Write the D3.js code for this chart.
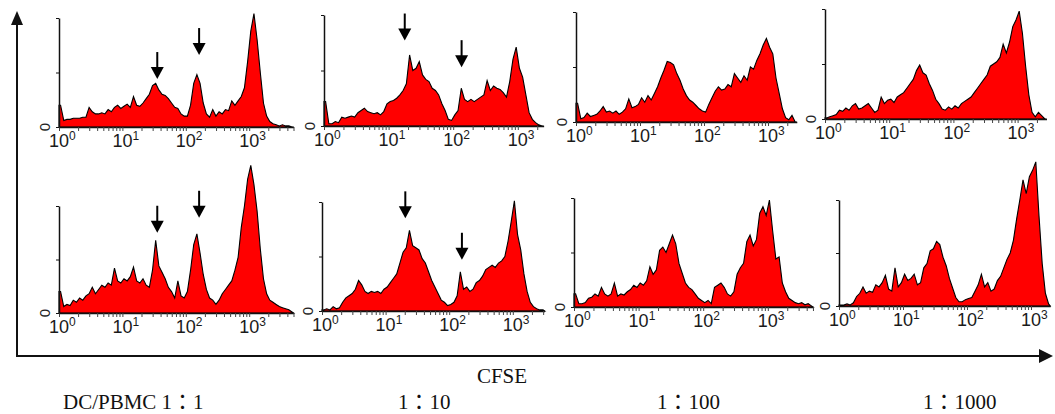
<!DOCTYPE html>
<html>
<head>
<meta charset="utf-8">
<script src="https://cdn.jsdelivr.net/npm/d3@7"></script>
<style>
  body { margin: 0; background: #fff; }
</style>
</head>
<body>
<div id="chart"></div>
<script>
// channel width of the histograms, in decades of CFSE intensity
const BIN = 0.05;
const decades = [0, 1, 2, 3];
const ratioLabels = ["DC/PBMC 1：1", "1：10", "1：100", "1：1000"];
const axisTitle = "CFSE";

// cell counts per channel (top y tick = 100), starting at 10^0
const countsTop1 = [20,6,7,7,8,8,8,9,9,18, 14,12,12,13,12,16,14,18,20,17, 19,21,18,28,20,19,22,26,30,38,
  40,34,30,29,26,22,18,17,12,10, 10,20,40,48,40,22,12,9,16,10, 14,12,16,15,24,20,24,28,36,60,
  88,104,80,50,22,10,5,3,2,1, 2,1,1,0];
const countsTop2 = [22,2,2,4,3,8,7,8,9,8, 12,14,16,13,12,11,12,10,13,20, 22,23,25,28,32,38,64,50,52,58,
  46,42,40,34,32,28,20,14,6,5, 10,14,34,24,22,24,22,24,26,28, 41,32,36,34,33,30,26,40,60,71,
  52,44,28,12,6,3,1,0];
const countsTop3 = [17,3,4,8,5,6,7,10,14,9, 10,8,10,7,9,12,21,13,14,16, 22,18,24,20,26,32,40,47,55,54,
  52,44,38,30,24,20,18,15,12,10, 9,16,22,28,32,29,30,34,32,44, 40,36,42,38,50,48,56,62,70,76,
  68,62,40,26,12,4,2,6,0];
const countsTop4 = [1,2,3,4,8,7,10,8,12,14, 9,10,12,14,10,6,8,20,14,17, 18,15,20,22,24,28,32,36,44,49,
  42,40,32,26,18,14,9,8,11,9, 12,10,14,16,18,20,24,28,32,36, 40,48,50,52,56,68,60,70,84,90,
  98,78,48,22,6,2,6,3,0];
const countsBottom1 = [20,6,8,7,12,10,14,12,16,18, 24,18,22,26,24,28,26,42,30,28, 32,30,34,43,30,28,32,26,24,40,
  68,44,38,32,24,20,14,30,16,14, 20,40,64,74,56,36,22,14,12,8, 12,18,22,26,30,40,52,80,100,125,
  138,120,95,60,32,18,12,10,8,6, 5,4,3,1];
const countsBottom2 = [1,2,1,4,2,3,8,12,14,16, 20,28,24,18,16,18,17,18,16,20, 22,26,30,34,44,54,58,74,60,58,
  56,48,44,36,28,22,16,10,8,5, 6,8,14,36,20,22,18,20,26,28, 32,38,40,42,40,44,46,50,64,82,
  101,70,56,34,18,8,4,2,1,1];
const countsBottom3 = [12,3,3,4,8,9,12,10,18,12, 10,12,22,10,12,11,14,16,20,18, 22,20,24,37,30,34,52,55,50,58,
  66,58,40,31,22,18,16,12,8,6, 4,6,3,18,20,22,18,12,10,14, 30,36,40,60,66,56,62,86,92,84,
  98,70,44,46,22,14,8,6,4,3, 4,2,3,1];
const countsBottom4 = [1,1,2,1,3,9,12,18,12,14, 13,20,18,22,29,16,14,36,18,22, 30,24,26,30,20,22,36,40,52,54,
  61,58,46,38,26,17,8,4,4,6, 7,8,14,20,30,18,22,14,16,24, 28,36,44,50,62,82,100,119,106,122,
  128,136,85,40,12,2];

// arrows marking division peaks: position (log10 CFSE) and arrow tip (count)
const arrowsTop1 = [{ at: 1.55, tip: 44 }, { at: 2.21, tip: 66 }];
const arrowsTop2 = [{ at: 1.25, tip: 77 }, { at: 2.13, tip: 53 }];
const arrowsBottom1 = [{ at: 1.55, tip: 75 }, { at: 2.21, tip: 89 }];
const arrowsBottom2 = [{ at: 1.31, tip: 85 }, { at: 2.2, tip: 47 }];

const width = 1055, height = 414;

// panel placement on the page
const panels = [
  { counts: countsTop1, arrows: arrowsTop1, x0: 59, dec: 63.4, base: 127, top: 18 },
  { counts: countsTop2, arrows: arrowsTop2, x0: 324, dec: 64.6, base: 126, top: 15 },
  { counts: countsTop3, arrows: [], x0: 576, dec: 64, base: 122, top: 12 },
  { counts: countsTop4, arrows: [], x0: 825, dec: 64.2, base: 119, top: 9 },
  { counts: countsBottom1, arrows: arrowsBottom1, x0: 59, dec: 63.4, base: 313, top: 206 },
  { counts: countsBottom2, arrows: arrowsBottom2, x0: 322, dec: 63.6, base: 311, top: 202 },
  { counts: countsBottom3, arrows: [], x0: 574, dec: 64.6, base: 307, top: 198 },
  { counts: countsBottom4, arrows: [], x0: 839, dec: 64, base: 306, top: 200 }
];

const svg = d3.select("#chart").append("svg")
  .attr("width", width)
  .attr("height", height)
  .style("font-family", "'Liberation Sans', Arial, sans-serif");

svg.append("rect").attr("width", width).attr("height", height).attr("fill", "#fff");

panels.forEach(p => {
  const n = p.counts.length;
  const x = d3.scaleLog()
    .domain([1, Math.pow(10, n * BIN)])
    .range([p.x0, p.x0 + n * BIN * p.dec]);
  const y = d3.scaleLinear()
    .domain([0, 100])
    .range([p.base, p.top]);

  const g = svg.append("g");

  // histogram outline through the channel counts
  const pts = p.counts.map((c, i) => [Math.pow(10, (i + 0.5) * BIN), c]);
  pts.unshift([1, p.counts[0]]);
  pts.push([Math.pow(10, n * BIN), 0]);

  const area = d3.area()
    .x(d => x(d[0]))
    .y0(y(0))
    .y1(d => y(d[1]))
    .curve(d3.curveLinear);

  g.append("path")
    .datum(pts)
    .attr("d", area)
    .attr("fill", "#ff0000")
    .attr("stroke", "#000")
    .attr("stroke-width", 1.1)
    .attr("stroke-linejoin", "miter");

  // log x axis with minor ticks, no built-in labels
  const tickVals = [];
  for (let k = 0; k < 4; k++) {
    for (let m = 1; m < 10; m++) {
      const v = m * Math.pow(10, k);
      if (v <= x.domain()[1]) tickVals.push(v);
    }
  }
  g.append("g")
    .attr("transform", `translate(0,${p.base})`)
    .call(d3.axisBottom(x).tickValues(tickVals).tickSize(4).tickSizeOuter(0).tickFormat(""))
    .call(a => a.select(".domain").attr("stroke", "#111").attr("stroke-width", 1.5))
    .call(a => a.selectAll(".tick line").attr("stroke", "#444"));

  // decade labels 10^k
  const lab = g.selectAll("text.dec")
    .data(decades)
    .join("text")
    .attr("class", "dec")
    .attr("x", d => x(Math.pow(10, d)) - 10)
    .attr("y", p.base + 20)
    .attr("font-size", 18)
    .attr("fill", "#1a1a1a");
  lab.append("tspan").text("10");
  lab.append("tspan").attr("dy", -7).attr("font-size", 12).text(d => d);

  // y axis: short left ticks, only 0 labelled (rotated)
  g.append("g")
    .attr("transform", `translate(${p.x0},0)`)
    .call(d3.axisLeft(y).tickValues([0, 50, 100]).tickSize(3).tickSizeOuter(0).tickFormat(""))
    .call(a => a.select(".domain").attr("stroke", "#111").attr("stroke-width", 1.5))
    .call(a => a.selectAll(".tick line").attr("stroke", "#111"));

  g.append("text")
    .attr("transform", `translate(${p.x0 - 15},${y(0)}) rotate(-90)`)
    .attr("text-anchor", "middle")
    .attr("dominant-baseline", "central")
    .attr("font-size", 15)
    .attr("fill", "#222")
    .text("0");

  // arrows over peaks
  p.arrows.forEach(a => {
    const ax = x(Math.pow(10, a.at));
    const ty = y(a.tip);
    g.append("line")
      .attr("x1", ax).attr("x2", ax)
      .attr("y1", ty - 27).attr("y2", ty - 10)
      .attr("stroke", "#000")
      .attr("stroke-width", 2);
    g.append("path")
      .attr("d", `M${ax - 6.5},${ty - 12}L${ax + 6.5},${ty - 12}L${ax},${ty}Z`)
      .attr("fill", "#000");
  });
});

// outer axes with arrow heads
const outer = svg.append("g");
outer.append("line")
  .attr("x1", 17).attr("x2", 17)
  .attr("y1", 356).attr("y2", 22)
  .attr("stroke", "#111").attr("stroke-width", 2);
outer.append("path")
  .attr("d", "M11,25L23,25L17,11Z")
  .attr("fill", "#111");
outer.append("line")
  .attr("x1", 16).attr("x2", 1042)
  .attr("y1", 356).attr("y2", 356)
  .attr("stroke", "#111").attr("stroke-width", 2);
outer.append("path")
  .attr("d", "M1039,349L1039,363L1053,356Z")
  .attr("fill", "#111");

const serif = "'Liberation Serif', 'Times New Roman', 'Noto Sans CJK TC', serif";

svg.append("text")
  .attr("x", 502)
  .attr("y", 383)
  .attr("text-anchor", "middle")
  .attr("font-family", serif)
  .attr("font-size", 21)
  .attr("fill", "#111")
  .text(axisTitle);

const labelX = [63, 398, 657, 923];
svg.selectAll("text.ratio")
  .data(ratioLabels)
  .join("text")
  .attr("class", "ratio")
  .attr("x", (d, i) => labelX[i])
  .attr("y", 409)
  .attr("font-family", serif)
  .attr("font-size", 21)
  .attr("fill", "#111")
  .text(d => d);
</script>
</body>
</html>
